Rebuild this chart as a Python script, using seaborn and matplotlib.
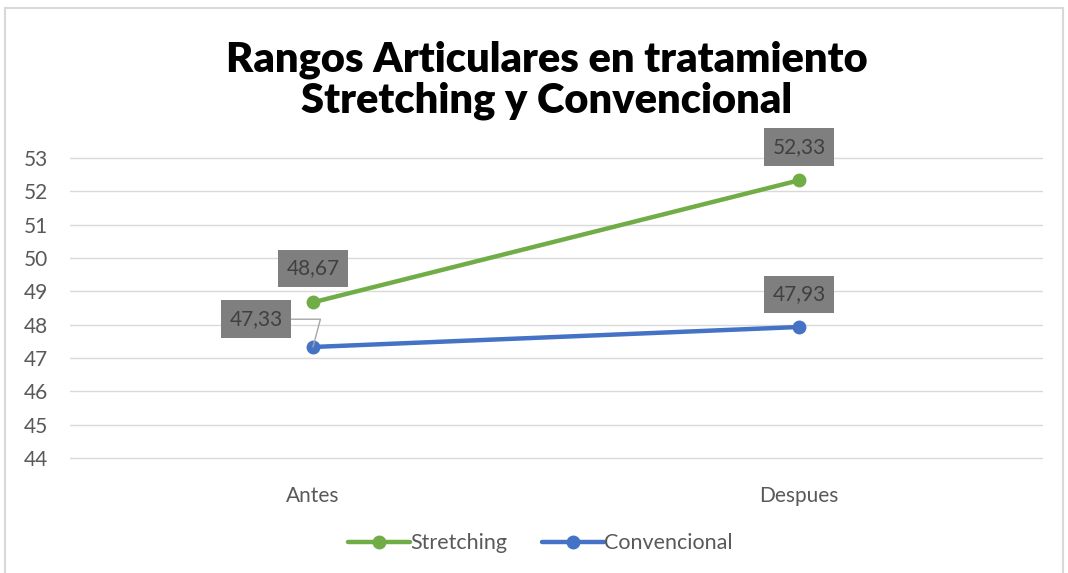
import matplotlib
matplotlib.use("Agg")
import matplotlib.pyplot as plt
import seaborn as sns
import pandas as pd
from matplotlib.patches import Rectangle

# datos
momentos = ["Antes", "Despues"]
stretching = [48.67, 52.33]
convencional = [47.33, 47.93]
series = ["Stretching", "Convencional"]
colores = {"Stretching": "#70AD47", "Convencional": "#4472C4"}

df = pd.DataFrame({
    "momento": momentos * 2,
    "x": [0, 1] * 2,
    "valor": stretching + convencional,
    "serie": ["Stretching"] * 2 + ["Convencional"] * 2,
})

sns.set_theme(style="white")
plt.rcParams['font.family'] = ['Lato', 'DejaVu Sans']

fig = plt.figure(figsize=(10.68, 5.73), dpi=100)
ax = fig.add_axes([0.0655, 0.2007, 0.9102, 0.5236])

sns.lineplot(data=df, x="x", y="valor", hue="serie", hue_order=series,
             palette=colores, marker="o", markersize=10, linewidth=3.2,
             markeredgewidth=0, ax=ax, legend=False)

ax.set_xlim(-0.5, 1.5)
ax.set_ylim(44, 53)
ax.set_yticks(range(44, 54))
ax.set_xticks([0, 1])
ax.set_xticklabels(momentos)
ax.set_xlabel("")
ax.set_ylabel("")
ax.grid(axis="y", color="#d9d9d9", linewidth=1)
for gl in ax.get_ygridlines():
    gl.set_clip_on(False)
ax.set_axisbelow(True)
for s in ax.spines.values():
    s.set_visible(False)
ax.tick_params(axis="both", colors="#595959", labelsize=15, length=0)
ax.tick_params(axis="x", pad=20)
ax.tick_params(axis="y", pad=33)
for lab in ax.get_yticklabels():
    lab.set_horizontalalignment("left")

# etiquetas de datos
caja = dict(boxstyle="square,pad=0.42", facecolor="#7f7f7f", edgecolor="none")
def etiqueta(x, y, dx, dy, texto, flecha=False):
    ax.annotate(texto, xy=(x, y), xytext=(dx, dy), textcoords="offset points",
                ha="center", va="center", fontsize=15, color="#404040",
                bbox=caja,
                arrowprops=dict(arrowstyle="-", color="#a6a6a6", lw=1,
                                connectionstyle="angle,angleA=0,angleB=75,rad=0",
                                shrinkA=0, shrinkB=0) if flecha else None)

fmt = lambda v: f"{v:.2f}".replace(".", ",")
etiqueta(0, stretching[0], 0, 24.5, fmt(stretching[0]))
etiqueta(1, stretching[1], 0, 24, fmt(stretching[1]))
etiqueta(1, convencional[1], 0, 23.5, fmt(convencional[1]))
etiqueta(0, convencional[0], -41, 20, fmt(convencional[0]), flecha=True)

fig.suptitle("Rangos Articulares en tratamiento\nStretching y Convencional",
             x=0.512, y=0.86, va="center", fontsize=30, fontweight="heavy",
             color="black", linespacing=1.1)

handles = [plt.Line2D([], [], color=colores[s], marker="o", markersize=10,
                      linewidth=3.2, markeredgewidth=0) for s in series]
fig.legend(handles, series, loc="center", bbox_to_anchor=(0.506, 0.052),
           ncol=2, frameon=False, fontsize=15.5, handlelength=2.9,
           handletextpad=0.0, columnspacing=1.6, labelcolor="#595959")

fig.patches.append(Rectangle((0.005, -0.01), 0.99, 0.996, transform=fig.transFigure,
                             fill=False, edgecolor="#d9d9d9", linewidth=1.5))

fig.savefig("out.png", dpi=100)
